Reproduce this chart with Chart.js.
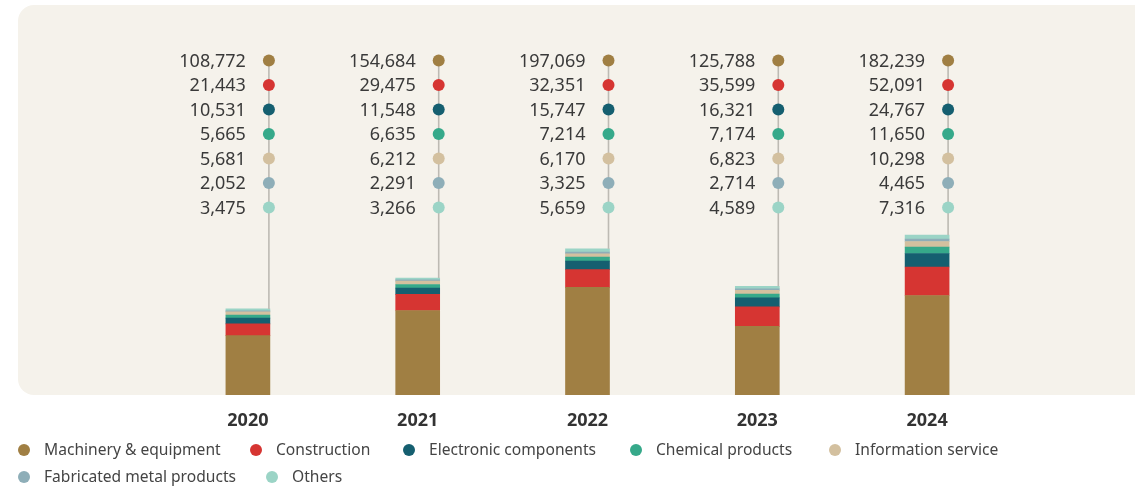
<!DOCTYPE html>
<html>
<head>
<meta charset="utf-8">
<script src="https://cdn.jsdelivr.net/npm/chart.js@4"></script>
<style>
  html, body { margin: 0; padding: 0; background: #ffffff; }
  #wrap { width: 1135px; height: 486px; position: relative; }
</style>
</head>
<body>
<div id="wrap"><canvas id="c" width="1135" height="486"></canvas></div>
<script>
const years = ['2020', '2021', '2022', '2023', '2024'];
const seriesNames = ['Machinery & equipment', 'Construction', 'Electronic components', 'Chemical products', 'Information service', 'Fabricated metal products', 'Others'];
const machinery = [108772, 154684, 197069, 125788, 182239];
const construction = [21443, 29475, 32351, 35599, 52091];
const electronic = [10531, 11548, 15747, 16321, 24767];
const chemical = [5665, 6635, 7214, 7174, 11650];
const information = [5681, 6212, 6170, 6823, 10298];
const fabricated = [2052, 2291, 3325, 2714, 4465];
const others = [3475, 3266, 5659, 4589, 7316];
const colors = ['#a07f43', '#d63532', '#155f70', '#36a98a', '#d3c09f', '#8eaeb8', '#9bd4c6'];

const seriesValues = [machinery, construction, electronic, chemical, information, fabricated, others];

// legend layout (dot centre x, row y)
const legendSlots = [[24, 450], [256, 450], [409, 450], [636, 450], [835, 450], [24, 477], [272, 477]];

const FONT = '"Noto Sans", "DejaVu Sans", sans-serif';

const bgPlugin = {
  id: 'bgBox',
  beforeDraw(chart) {
    const ctx = chart.ctx;
    ctx.save();
    ctx.fillStyle = '#f5f2eb';
    ctx.beginPath();
    ctx.roundRect(18, 5, 1140, 390, 16);
    ctx.fill();
    ctx.restore();
  }
};

const labelPlugin = {
  id: 'stackLabels',
  afterDatasetsDraw(chart) {
    const ctx = chart.ctx;
    const n = chart.data.datasets.length;
    const rowStart = 60.4, rowGap = 24.5;
    const topMeta = chart.getDatasetMeta(n - 1);
    ctx.save();
    topMeta.data.forEach((el, i) => {
      const cx = el.x + el.width / 2 - 1;
      ctx.strokeStyle = '#bdbab3';
      ctx.lineWidth = 1.6;
      ctx.beginPath();
      ctx.moveTo(cx, rowStart);
      ctx.lineTo(cx, el.y);
      ctx.stroke();
      chart.data.datasets.forEach((ds, d) => {
        const y = rowStart + d * rowGap;
        ctx.fillStyle = ds.backgroundColor;
        ctx.beginPath();
        ctx.arc(cx, y, 6, 0, Math.PI * 2);
        ctx.fill();
        ctx.fillStyle = '#3a3a3a';
        ctx.font = '18px ' + FONT;
        ctx.textAlign = 'right';
        ctx.textBaseline = 'middle';
        ctx.fillText(ds.data[i].toLocaleString('en-US'), cx - 23, y + 1);
      });
    });
    ctx.restore();
  }
};

const legendPlugin = {
  id: 'customLegend',
  afterDraw(chart) {
    const ctx = chart.ctx;
    ctx.save();
    ctx.font = '15.6px ' + FONT;
    ctx.textAlign = 'left';
    ctx.textBaseline = 'middle';
    chart.data.datasets.forEach((ds, k) => {
      const [cx, y] = legendSlots[k];
      ctx.fillStyle = ds.backgroundColor;
      ctx.beginPath();
      ctx.arc(cx, y, 6, 0, Math.PI * 2);
      ctx.fill();
      ctx.fillStyle = '#444444';
      ctx.fillText(ds.label, cx + 20, y + 1);
    });
    ctx.restore();
  }
};

new Chart(document.getElementById('c'), {
  type: 'bar',
  data: {
    labels: years,
    datasets: seriesNames.map((name, k) => ({
      label: name,
      data: seriesValues[k],
      backgroundColor: colors[k],
      borderWidth: 0,
      barThickness: 44
    }))
  },
  options: {
    responsive: false,
    animation: false,
    layout: { padding: { left: 163, right: 123, top: 40, bottom: 47.4 } },
    plugins: {
      legend: { display: false },
      tooltip: { enabled: false }
    },
    scales: {
      x: {
        stacked: true,
        grid: { display: false },
        border: { display: false },
        ticks: {
          color: '#333333',
          font: { family: FONT, size: 18, weight: 'bold' },
          padding: 7
        }
      },
      y: {
        stacked: true,
        display: false,
        min: 0,
        max: 650000
      }
    }
  },
  plugins: [bgPlugin, labelPlugin, legendPlugin]
});
</script>
</body>
</html>
